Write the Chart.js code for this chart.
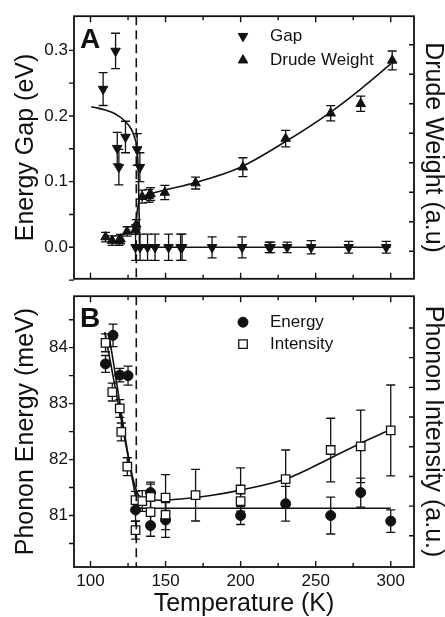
<!DOCTYPE html>
<html>
<head>
<meta charset="utf-8">
<script src="https://cdn.jsdelivr.net/npm/chart.js@4.4.0/dist/chart.umd.min.js"></script>
<style>
  html, body { margin: 0; padding: 0; background: #fff; }
  #wrap { position: relative; width: 445px; height: 617px; overflow: hidden; }
  #boxA { position: absolute; left: 0; top: 0; width: 445px; height: 295px; }
  #boxB { position: absolute; left: 0; top: 280px; width: 445px; height: 337px; }
</style>
</head>
<body>
<div id="wrap">
  <div id="boxA"><canvas id="chartA"></canvas></div>
  <div id="boxB"><canvas id="chartB"></canvas></div>
</div>
<script>
// x axis (temperature)
const tempTicks = [100, 125, 150, 175, 200, 225, 250, 275, 300];
const tempLabels = ["100", "", "150", "", "200", "", "250", "", "300"];
const transitionT = 130.5;

// panel A
const gapTicks = [-0.05, 0, 0.05, 0.1, 0.15, 0.2, 0.25, 0.3];
const gapLabels = ["", "0.0", "", "0.1", "", "0.2", "", "0.3"];
const drudeTicks = [1, 2, 3, 4, 5, 6, 7, 8];

const gapT = [108.4, 116.7, 117.8, 118.9, 123.3, 131.1, 132.9, 130, 133, 138, 143, 152, 160, 161, 181, 201, 219, 220, 231, 247, 272, 297];
const gapE = [0.241, 0.299, 0.151, 0.122, 0.168, 0.149, 0.122, 0, 0, 0, 0, 0, 0, 0, 0, 0, 0, 0, 0, 0, 0, 0];
const gapErr = [0.025, 0.027, 0.024, 0.027, 0.024, 0.024, 0.022, 0.02, 0.02, 0.02, 0.02, 0.02, 0.02, 0.02, 0.016, 0.016, 0.008, 0.008, 0.008, 0.01, 0.009, 0.009];

const drudeT = [110, 114.4, 118.9, 120, 124.4, 130, 130.5, 134.4, 138.9, 140, 149.5, 170, 201.5, 230, 260, 280, 301];
const drudeW = [1.48, 1.36, 1.36, 1.41, 1.67, 1.73, 1.91, 2.85, 2.88, 2.94, 2.99, 3.31, 3.85, 4.82, 5.68, 6.0, 7.47];
const drudeErr = [0.16, 0.16, 0.16, 0.16, 0.16, 0.16, 0.16, 0.22, 0.22, 0.22, 0.24, 0.2, 0.32, 0.28, 0.26, 0.26, 0.32];

const gapFitT = [100.5, 105, 110, 115, 120, 123, 126, 128, 129.5, 130.7, 131.5, 132, 132.4, 132.6, 300];
const gapFitE = [0.214, 0.212, 0.209, 0.205, 0.198, 0.192, 0.184, 0.176, 0.166, 0.155, 0.135, 0.1, 0.05, 0, 0];

const drudeFitT = [130, 131, 132.5, 135, 140, 150, 170, 200, 230, 260, 280, 300];
const drudeFitW = [1.72, 2.3, 2.72, 2.85, 2.95, 3.08, 3.33, 3.85, 4.72, 5.72, 6.5, 7.35];

// panel B
const phononTicks = [80.5, 81, 81.5, 82, 82.5, 83, 83.5, 84, 84.5];
const phononLabels = ["", "81", "", "82", "", "83", "", "84", ""];
const intensityTicks = [1, 2, 3, 4, 5, 6, 7, 8];

const energyT = [110, 115, 119.5, 125, 130, 140, 140, 150, 200, 230, 260, 280, 300];
const energyMeV = [83.71, 84.22, 83.51, 83.5, 81.1, 81.41, 80.82, 80.92, 81.0, 81.21, 81.0, 81.41, 80.9];
const energyErr = [0.15, 0.2, 0.12, 0.17, 0.2, 0.15, 0.19, 0.31, 0.16, 0.31, 0.33, 0.26, 0.2];

const intensityT = [110, 114.5, 119.5, 120.5, 124.5, 130, 130, 134.5, 140, 140, 150, 150, 170, 200, 200, 230, 260, 280, 300];
const intensityAU = [7.5, 5.84, 5.29, 4.5, 3.33, 2.2, 1.19, 2.17, 2.31, 1.8, 2.29, 1.71, 2.37, 2.56, 2.17, 2.91, 3.89, 4.01, 4.55];
const intensityErr = [0.3, 0.3, 0.3, 0.3, 0.3, 0.3, 0.3, 0.35, 0.5, 0.5, 0.77, 0.5, 0.87, 0.73, 0.5, 0.98, 1.07, 1.22, 1.53];

const energyFitT = [109.5, 131.5, 300];
const energyFitMeV = [84.28, 81.13, 81.13];

const intensityFitT = [112, 133, 138, 145, 160, 180, 200, 230, 260, 280, 300];
const intensityFitAU = [7.79, 2.3, 2.22, 2.2, 2.24, 2.36, 2.54, 2.91, 3.62, 4.12, 4.58];

const ink = "#111";
const family = "'Liberation Sans', Arial, Helvetica, sans-serif";
Chart.defaults.font.family = family;
Chart.defaults.color = ink;

function xy(xs, ys) {
  return xs.map((x, i) => ({ x: x, y: ys[i] }));
}
function setTicks(values) {
  return (scale) => { scale.ticks = values.map((v) => ({ value: v })); };
}

function drawMarker(ctx, style, x, y) {
  ctx.fillStyle = style.fill;
  ctx.strokeStyle = ink;
  ctx.lineWidth = style.borderWidth;
  if (Chart.helpers && Chart.helpers.drawPoint) {
    Chart.helpers.drawPoint(ctx, style, x, y);
  }
}

// error bars, frame, inward ticks, dashed line, legend, panel letter
const framePlugin = {
  id: "frame",
  beforeDatasetsDraw(chart) {
    const ctx = chart.ctx;
    const xs = chart.scales.x;
    ctx.save();
    ctx.strokeStyle = ink;
    ctx.lineWidth = 1.3;
    chart.data.datasets.forEach((ds) => {
      if (!ds.err) return;
      const ys = chart.scales[ds.yAxisID];
      ds.data.forEach((p, i) => {
        const px = xs.getPixelForValue(p.x);
        const y1 = ys.getPixelForValue(p.y - ds.err[i]);
        const y2 = ys.getPixelForValue(p.y + ds.err[i]);
        ctx.beginPath();
        ctx.moveTo(px, y1); ctx.lineTo(px, y2);
        ctx.moveTo(px - 4.5, y1); ctx.lineTo(px + 4.5, y1);
        ctx.moveTo(px - 4.5, y2); ctx.lineTo(px + 4.5, y2);
        ctx.stroke();
      });
    });
    ctx.restore();
  },
  afterDraw(chart, args, opts) {
    const ctx = chart.ctx;
    const a = chart.chartArea;
    const xs = chart.scales.x, yl = chart.scales.y, yr = chart.scales.y2;
    ctx.save();
    ctx.strokeStyle = ink;

    // dashed transition line
    const tx = xs.getPixelForValue(transitionT);
    ctx.lineWidth = 1.6;
    ctx.setLineDash([9, 5]);
    ctx.beginPath();
    ctx.moveTo(tx, a.top); ctx.lineTo(tx, a.bottom);
    ctx.stroke();
    ctx.setLineDash([]);

    // ticks
    ctx.lineWidth = 1.4;
    ctx.beginPath();
    xs.ticks.forEach((t, i) => {
      const px = xs.getPixelForValue(t.value);
      const len = tempLabels[i] ? 6 : 4;
      ctx.moveTo(px, a.top); ctx.lineTo(px, a.top + len);
      ctx.moveTo(px, a.bottom); ctx.lineTo(px, a.bottom - len);
    });
    yl.ticks.forEach((t) => {
      const py = yl.getPixelForValue(t.value);
      ctx.moveTo(a.left, py); ctx.lineTo(a.left - 5, py);
    });
    yr.ticks.forEach((t) => {
      const py = yr.getPixelForValue(t.value);
      ctx.moveTo(a.right, py); ctx.lineTo(a.right - 5, py);
    });
    ctx.stroke();

    // frame
    ctx.lineWidth = 1.8;
    ctx.strokeRect(a.left, a.top, a.right - a.left, a.bottom - a.top);

    // panel letter
    ctx.fillStyle = ink;
    ctx.font = "bold 28px " + family;
    ctx.textBaseline = "alphabetic";
    ctx.textAlign = "left";
    ctx.fillText(opts.letter, a.left + 6, a.top + opts.letterDy);

    // legend
    ctx.font = "17px " + family;
    ctx.textBaseline = "middle";
    opts.legend.forEach((item) => {
      const ds = chart.data.datasets[item.ds];
      drawMarker(ctx, {
        pointStyle: ds.pointStyle,
        rotation: ds.rotation || 0,
        radius: ds.pointRadius,
        borderWidth: ds.borderWidth,
        fill: ds.backgroundColor
      }, a.left + item.dx, a.top + item.dy);
      ctx.fillStyle = ink;
      ctx.fillText(ds.label, a.left + item.dx + 27, a.top + item.dy);
    });
    ctx.restore();
  }
};

const tickFont = { size: 17 };
const titleFont = { size: 25, lineHeight: 1 };
const fitLine = { type: "line", borderColor: ink, borderWidth: 1.6, pointRadius: 0, fill: false };

new Chart(document.getElementById("chartA"), {
  type: "scatter",
  data: {
    datasets: [
      { label: "Gap", data: xy(gapT, gapE), err: gapErr, yAxisID: "y",
        pointStyle: "triangle", rotation: 180, pointRadius: 5.5, borderWidth: 1,
        backgroundColor: ink, borderColor: ink },
      { label: "Drude Weight", data: xy(drudeT, drudeW), err: drudeErr, yAxisID: "y2",
        pointStyle: "triangle", pointRadius: 5.5, borderWidth: 1,
        backgroundColor: ink, borderColor: ink },
      Object.assign({ label: "Gap fit", data: xy(gapFitT, gapFitE), yAxisID: "y", cubicInterpolationMode: "monotone" }, fitLine),
      Object.assign({ label: "Drude fit", data: xy(drudeFitT, drudeFitW), yAxisID: "y2", cubicInterpolationMode: "monotone" }, fitLine)
    ]
  },
  options: {
    responsive: true,
    maintainAspectRatio: false,
    animation: false,
    layout: { padding: { top: 13, bottom: 6, left: 0, right: 0 } },
    plugins: {
      legend: { display: false },
      tooltip: { enabled: false },
      frame: { letter: "A", letterDy: 32, legend: [{ ds: 0, dx: 169, dy: 20 }, { ds: 1, dx: 169, dy: 44 }] }
    },
    scales: {
      x: {
        type: "linear", min: 89, max: 315.5,
        afterBuildTicks: setTicks(tempTicks),
        ticks: { display: false },
        grid: { display: false, drawTicks: false },
        border: { display: false },
        afterFit: (s) => { s.height = 0; }
      },
      y: {
        position: "left", min: -0.048, max: 0.352,
        afterBuildTicks: setTicks(gapTicks),
        ticks: { callback: (v, i) => gapLabels[i], padding: 6, font: tickFont, color: ink },
        grid: { display: false, drawTicks: false },
        border: { display: false },
        title: { display: true, text: "Energy Gap (eV)", font: titleFont, color: ink, padding: { top: 13.5, bottom: 0 } },
        afterFit: (s) => { s.width = 74; }
      },
      y2: {
        position: "right", min: 0.065, max: 8.97,
        afterBuildTicks: setTicks(drudeTicks),
        ticks: { display: false },
        grid: { display: false, drawTicks: false },
        border: { display: false },
        title: { display: true, text: "Drude Weight (a.u)", font: titleFont, color: ink, padding: { top: 0, bottom: 0 } },
        afterFit: (s) => { s.width = 31; }
      }
    }
  },
  plugins: [framePlugin]
});

new Chart(document.getElementById("chartB"), {
  type: "scatter",
  data: {
    datasets: [
      { label: "Intensity", data: xy(intensityT, intensityAU), err: intensityErr, yAxisID: "y2",
        pointStyle: "rect", pointRadius: 6, borderWidth: 1.3,
        backgroundColor: "#fff", borderColor: ink },
      { label: "Energy", data: xy(energyT, energyMeV), err: energyErr, yAxisID: "y",
        pointStyle: "circle", pointRadius: 5, borderWidth: 1,
        backgroundColor: ink, borderColor: ink },
      Object.assign({ label: "Energy fit", data: xy(energyFitT, energyFitMeV), yAxisID: "y", tension: 0 }, fitLine),
      Object.assign({ label: "Intensity fit", data: xy(intensityFitT, intensityFitAU), yAxisID: "y2", cubicInterpolationMode: "monotone" }, fitLine)
    ]
  },
  options: {
    responsive: true,
    maintainAspectRatio: false,
    animation: false,
    layout: { padding: { top: 9, bottom: 0, left: 0, right: 0 } },
    plugins: {
      legend: { display: false },
      tooltip: { enabled: false },
      frame: { letter: "B", letterDy: 31, legend: [{ ds: 1, dx: 169, dy: 26 }, { ds: 0, dx: 169, dy: 48 }] }
    },
    scales: {
      x: {
        type: "linear", min: 89, max: 315.5,
        afterBuildTicks: setTicks(tempTicks),
        ticks: { callback: (v, i) => tempLabels[i], autoSkip: false, maxRotation: 0, padding: 4, font: tickFont, color: ink },
        grid: { display: false, drawTicks: false },
        border: { display: false },
        title: { display: true, text: "Temperature (K)", font: titleFont, color: ink, padding: { top: 0, bottom: 0 } },
        afterFit: (s) => { s.height = 50; }
      },
      y: {
        position: "left", min: 80.08, max: 84.92,
        afterBuildTicks: setTicks(phononTicks),
        ticks: { callback: (v, i) => phononLabels[i], padding: 6, font: tickFont, color: ink },
        grid: { display: false, drawTicks: false },
        border: { display: false },
        title: { display: true, text: "Phonon Energy (meV)", font: titleFont, color: ink, padding: { top: 13.5, bottom: 0 } },
        afterFit: (s) => { s.width = 74; }
      },
      y2: {
        position: "right", min: -0.05, max: 9.07,
        afterBuildTicks: setTicks(intensityTicks),
        ticks: { display: false },
        grid: { display: false, drawTicks: false },
        border: { display: false },
        title: { display: true, text: "Phonon Intensity (a.u.)", font: titleFont, color: ink, padding: { top: 0, bottom: 0 } },
        afterFit: (s) => { s.width = 31; }
      }
    }
  },
  plugins: [framePlugin]
});
</script>
</body>
</html>
